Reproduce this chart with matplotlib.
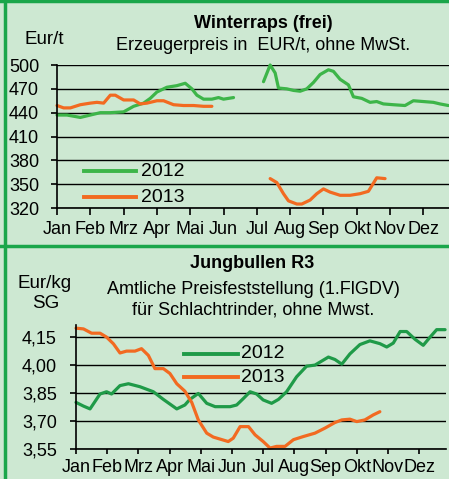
import matplotlib
matplotlib.use("Agg")
import matplotlib.pyplot as plt
from matplotlib.lines import Line2D

plt.rcParams['font.family'] = ['Liberation Sans', 'DejaVu Sans']

months = ["Jan", "Feb", "Mrz", "Apr", "Mai", "Jun", "Jul", "Aug", "Sep", "Okt", "Nov", "Dez"]

# Winterraps (EUR/t), x in months from Jan 1
raps12_a_x = [0, 0.3, 0.7, 1.0, 1.3, 1.6, 2.0, 2.3, 2.6, 2.8, 3.0, 3.3, 3.6, 3.85, 4.05, 4.2, 4.4, 4.65, 4.85, 5.0, 5.3]
raps12_a_y = [437, 437, 434, 437, 440, 440, 441, 448, 452, 458, 466, 472, 474, 477, 470, 462, 457, 457, 459, 457, 459]
raps12_b_x = [6.2, 6.4, 6.55, 6.65, 6.9, 7.1, 7.3, 7.5, 7.7, 7.9, 8.15, 8.3, 8.5, 8.75, 8.9, 9.15, 9.4, 9.6, 9.8, 10.1, 10.45, 10.7, 11.0, 11.3, 11.5, 11.75]
raps12_b_y = [479, 500, 490, 471, 470, 468, 467, 470, 478, 488, 494, 492, 482, 475, 460, 458, 453, 454, 451, 450, 449, 455, 454, 453, 451, 449]
raps13_a_x = [0, 0.2, 0.4, 0.7, 1.0, 1.2, 1.4, 1.6, 1.75, 2.0, 2.3, 2.5, 2.7, 3.0, 3.2, 3.5, 3.8, 4.1, 4.4, 4.65]
raps13_a_y = [449, 446, 446, 450, 452, 453, 452, 462, 462, 456, 456, 451, 452, 455, 455, 450, 449, 449, 448, 448]
raps13_b_x = [6.4, 6.6, 6.8, 6.95, 7.2, 7.35, 7.6, 7.8, 8.0, 8.2, 8.5, 8.8, 9.1, 9.35, 9.6, 9.85]
raps13_b_y = [357, 352, 338, 329, 325, 325, 330, 338, 344, 340, 336, 336, 338, 341, 358, 357]
raps_ticks = [320, 350, 380, 410, 440, 470, 500]

# Jungbullen R3 (EUR/kg SG)
bull12_x = [0, 0.24, 0.45, 0.77, 0.98, 1.14, 1.41, 1.68, 2.05, 2.48, 2.8, 3.23, 3.49, 3.65, 3.92, 4.19, 4.46, 4.94, 5.15,
            5.36, 5.58, 5.79, 6.0, 6.27, 6.49, 6.75, 7.07, 7.39, 7.66, 8.09, 8.3, 8.52, 8.78, 9.1, 9.42, 9.74, 9.96,
            10.17, 10.39, 10.6, 10.87, 11.13, 11.35, 11.56, 11.83]
bull12_y = [3.80, 3.78, 3.765, 3.845, 3.857, 3.845, 3.89, 3.90, 3.884, 3.857, 3.816, 3.765, 3.786, 3.816, 3.848, 3.795,
            3.777, 3.777, 3.786, 3.82, 3.857, 3.845, 3.813, 3.795, 3.816, 3.857, 3.937, 3.994, 4.0, 4.043, 4.03, 4.005,
            4.06, 4.11, 4.13, 4.115, 4.097, 4.118, 4.18, 4.18, 4.138, 4.106, 4.15, 4.19, 4.19]
bull13_x = [0, 0.24, 0.5, 0.77, 0.98, 1.2, 1.41, 1.62, 1.89, 2.1, 2.32, 2.53, 2.8, 3.01, 3.23, 3.49, 3.71, 3.92, 4.19,
            4.4, 4.62, 4.88, 5.04, 5.26, 5.53, 5.74, 6.0, 6.22, 6.43, 6.7, 6.97, 7.29, 7.66, 7.98, 8.3, 8.52, 8.78,
            9.0, 9.26, 9.53, 9.74]
bull13_y = [4.198, 4.194, 4.171, 4.171, 4.15, 4.114, 4.065, 4.075, 4.075, 4.088, 4.052, 3.981, 3.981, 3.955, 3.90,
            3.86, 3.80, 3.706, 3.635, 3.614, 3.603, 3.59, 3.608, 3.67, 3.67, 3.626, 3.59, 3.555, 3.564, 3.564, 3.60,
            3.617, 3.635, 3.662, 3.692, 3.706, 3.71, 3.697, 3.706, 3.733, 3.75]
bull_ticks = [3.55, 3.70, 3.85, 4.00, 4.15]

BG = '#cde8d2'
GREEN1 = '#3db549'
GREEN2 = '#1f9a48'
ORANGE = '#f26a21'
BORDER = '#1aa64a'

W, H = 449, 479
fig = plt.figure(figsize=(W / 100, H / 100), dpi=100, facecolor=BG)


def fx(x):
    return x / W


def fy(y):
    return 1 - y / H


def style_axes(ax, ticks, labels, fs, ypad, xlen, xpad):
    ax.set_facecolor('none')
    for s in ['top', 'right']:
        ax.spines[s].set_visible(False)
    for s in ['left', 'bottom']:
        ax.spines[s].set_color('black')
        ax.spines[s].set_linewidth(1.2)
    ax.set_yticks(ticks)
    ax.set_yticklabels(labels, fontsize=fs)
    ax.yaxis.grid(True, color='black', linewidth=1.0)
    ax.set_axisbelow(True)
    ax.set_xticks(range(12))
    ax.set_xticklabels(months, fontsize=fs)
    ax.tick_params(axis='y', direction='out', length=4.3, width=1.2, color='black', pad=ypad)
    ax.tick_params(axis='x', direction='out', length=xlen, width=1.2, color='black', pad=xpad)


# ---- top panel
ax1 = fig.add_axes([fx(57), fy(208), fx(449) - fx(57), fy(65) - fy(208)])
ax1.plot(raps12_a_x, raps12_a_y, color=GREEN1, lw=2.3, solid_capstyle='round')
ax1.plot(raps12_b_x, raps12_b_y, color=GREEN1, lw=2.3, solid_capstyle='round')
ax1.plot(raps13_a_x, raps13_a_y, color=ORANGE, lw=2.3, solid_capstyle='round')
ax1.plot(raps13_b_x, raps13_b_y, color=ORANGE, lw=2.3, solid_capstyle='round')
ax1.set_xlim(0, 11.77)
ax1.set_ylim(320, 500)
style_axes(ax1, raps_ticks, [str(t) for t in raps_ticks], 13, ypad=8.6, xlen=5, xpad=4)
for c in ax1.lines:
    c.set_clip_on(False)

fig.text(fx(263), fy(23), "Winterraps (frei)", fontsize=13, fontweight='bold', ha='center', va='center')
fig.text(fx(263), fy(46), "Erzeugerpreis in  EUR/t, ohne MwSt.", fontsize=13, ha='center', va='center')
fig.text(fx(24), fy(40), "Eur/t", fontsize=13.5, ha='left', va='center')

fig.add_artist(Line2D([fx(84), fx(136)], [fy(171), fy(171)], color=GREEN1, lw=2.8))
fig.add_artist(Line2D([fx(84), fx(136)], [fy(197), fy(197)], color=ORANGE, lw=2.8))
fig.text(fx(141), fy(171), "2012", fontsize=14, ha='left', va='center')
fig.text(fx(141), fy(197), "2013", fontsize=14, ha='left', va='center')

# ---- bottom panel
ax2 = fig.add_axes([fx(76), fy(449), fx(446) - fx(76), fy(325) - fy(449)])
ax2.plot(bull12_x, bull12_y, color=GREEN2, lw=2.3, solid_capstyle='round')
ax2.plot(bull13_x, bull13_y, color=ORANGE, lw=2.3, solid_capstyle='round')
ax2.set_xlim(0, 11.86)
ax2.set_ylim(3.55, 4.215)
style_axes(ax2, bull_ticks, [f"{t:.2f}".replace('.', ',') for t in bull_ticks], 13, ypad=9.4, xlen=3.5, xpad=3.5)
for c in ax2.lines:
    c.set_clip_on(False)

fig.text(fx(252), fy(264), "Jungbullen R3", fontsize=13, fontweight='bold', ha='center', va='center')
fig.text(fx(253), fy(290), "Amtliche Preisfeststellung (1.FlGDV)", fontsize=13, ha='center', va='center')
fig.text(fx(253), fy(310), "für Schlachtrinder, ohne Mwst.", fontsize=13, ha='center', va='center')
fig.text(fx(45), fy(283), "Eur/kg", fontsize=13.5, ha='center', va='center')
fig.text(fx(46), fy(303), "SG", fontsize=13.5, ha='center', va='center')

fig.add_artist(Line2D([fx(184), fx(238)], [fy(354), fy(354)], color=GREEN2, lw=2.8))
fig.add_artist(Line2D([fx(184), fx(238)], [fy(377), fy(377)], color=ORANGE, lw=2.8))
fig.text(fx(241), fy(354), "2012", fontsize=14, ha='left', va='center')
fig.text(fx(241), fy(377), "2013", fontsize=14, ha='left', va='center')

# ---- frame
fig.add_artist(Line2D([fx(5), fx(5)], [fy(0), fy(479)], color=BORDER, lw=2.5))
fig.add_artist(Line2D([fx(0), fx(449)], [fy(1), fy(1)], color=BORDER, lw=2.5))
fig.add_artist(Line2D([fx(0), fx(449)], [fy(246), fy(246)], color=BORDER, lw=2.5))

fig.savefig("out.png", dpi=100, facecolor=BG)
